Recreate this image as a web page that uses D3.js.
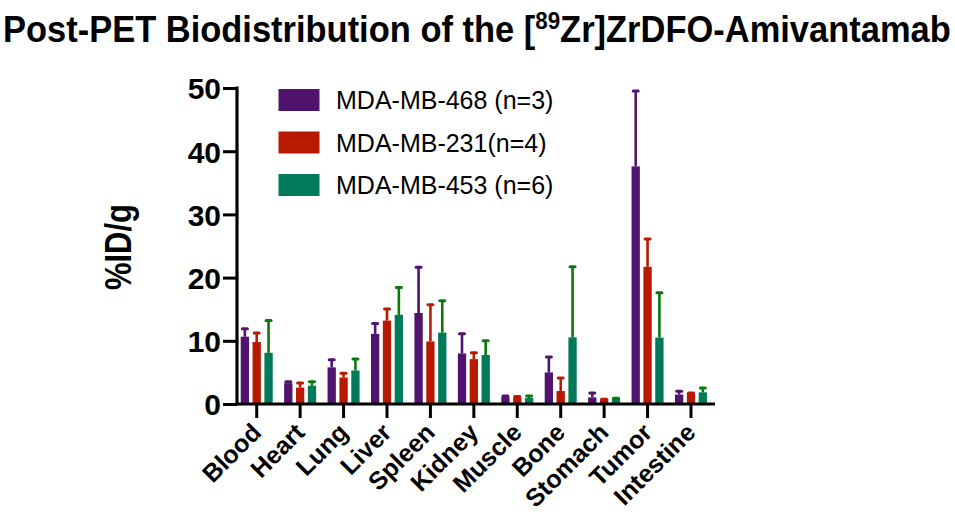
<!DOCTYPE html>
<html>
<head>
<meta charset="utf-8">
<script src="https://cdn.jsdelivr.net/npm/d3@7"></script>
<style>
  html, body { margin: 0; padding: 0; background: #fff; }
  svg { display: block; font-family: "Liberation Sans", Arial, sans-serif; }
</style>
</head>
<body>
<svg id="chart" width="955" height="517"></svg>
<script>
// ---- data ----
const categories = ["Blood", "Heart", "Lung", "Liver", "Spleen", "Kidney", "Muscle", "Bone", "Stomach", "Tumor", "Intestine"];
const seriesNames = ["MDA-MB-468 (n=3)", "MDA-MB-231(n=4)", "MDA-MB-453 (n=6)"];
const mb468Mean = [10.65, 3.3, 5.8, 11.1, 14.4, 8.0, 1.1, 5.0, 1.05, 37.6, 1.5];
const mb468Sd   = [1.35, 0.3, 1.3, 1.7, 7.3, 3.2, 0.25, 2.5, 0.75, 12.0, 0.6];
const mb231Mean = [9.8, 2.6, 4.2, 13.2, 9.9, 7.1, 1.05, 2.05, 0.75, 21.7, 1.7];
const mb231Sd   = [1.5, 0.8, 0.75, 1.9, 5.9, 1.1, 0.2, 2.15, 0.1, 4.5, 0.1];
const mb453Mean = [8.1, 2.9, 5.3, 14.1, 11.3, 7.75, 0.95, 10.55, 0.85, 10.5, 1.85];
const mb453Sd   = [5.2, 0.7, 1.9, 4.4, 5.1, 2.35, 0.4, 11.25, 0.15, 7.2, 0.75];
const yTicks = [0, 10, 20, 30, 40, 50];

const barColors = ["#50146e", "#b81a00", "#007a58"];
const errColors = ["#50146e", "#b81a00", "#0a780a"];

const series = [
  { name: seriesNames[0], mean: mb468Mean, sd: mb468Sd },
  { name: seriesNames[1], mean: mb231Mean, sd: mb231Sd },
  { name: seriesNames[2], mean: mb453Mean, sd: mb453Sd }
];

// ---- layout ----
const svg = d3.select("#chart");
const x0 = 235, x1 = 712.7, yTop = 88, yBot = 404;

const x = d3.scaleBand().domain(categories).range([x0, x1]).padding(0);
const xs = d3.scaleBand().domain([0, 1, 2]).range([-16, 16]).paddingInner(0.3).paddingOuter(0);
const y = d3.scaleLinear().domain([0, 50]).range([yBot, yTop]);
const cx = (c) => x(c) + x.bandwidth() / 2;

// title (condensed to fit the width, like the reference)
const titleG = svg.append("g");
const title = titleG.append("text")
  .attr("x", 0).attr("y", 0)
  .attr("font-size", 37).attr("font-weight", "bold").attr("fill", "#000");
title.append("tspan").text("Post-PET Biodistribution of the [");
title.append("tspan").attr("font-size", 24).attr("dy", -13).text("89");
title.append("tspan").attr("dy", 13).text("Zr]ZrDFO-Amivantamab");
const tw = title.node().getComputedTextLength();
titleG.attr("transform", `translate(3,42) scale(${948 / tw},1)`);

// bars
series.forEach((s, si) => {
  const g = svg.append("g");
  const bx = (c) => cx(c) + xs(si);
  const mx = (c) => bx(c) + xs.bandwidth() / 2;
  g.selectAll("rect").data(categories).join("rect")
    .attr("x", bx)
    .attr("width", xs.bandwidth())
    .attr("y", (c, i) => y(s.mean[i]))
    .attr("height", (c, i) => yBot - y(s.mean[i]))
    .attr("fill", barColors[si]);
  // error bars (upper only)
  g.selectAll("line.err").data(categories).join("line")
    .attr("class", "err")
    .attr("x1", mx).attr("x2", mx)
    .attr("y1", (c, i) => y(s.mean[i]))
    .attr("y2", (c, i) => y(s.mean[i] + s.sd[i]))
    .attr("stroke", errColors[si]).attr("stroke-width", 2.6);
  g.selectAll("line.cap").data(categories).join("line")
    .attr("class", "cap")
    .attr("x1", (c) => mx(c) - 2.5)
    .attr("x2", (c) => mx(c) + 2.5)
    .attr("y1", (c, i) => y(s.mean[i] + s.sd[i]) + 0.5)
    .attr("y2", (c, i) => y(s.mean[i] + s.sd[i]) + 0.5)
    .attr("stroke", errColors[si]).attr("stroke-width", 3).attr("stroke-linecap", "round");
});

// y axis
const yAxis = d3.axisLeft(y).tickValues(yTicks).tickSize(14).tickPadding(2).tickFormat(d3.format("d"));
const gy = svg.append("g").attr("transform", `translate(237,0)`).call(yAxis);
gy.select(".domain").remove();
gy.selectAll(".tick line").attr("stroke", "#000").attr("stroke-width", 3);
gy.selectAll(".tick text").attr("font-size", 30).attr("font-weight", "bold").attr("fill", "#000")
  .attr("font-family", "'Liberation Sans', Arial, sans-serif").attr("dy", "0.36em");
svg.append("line").attr("x1", 237).attr("x2", 237).attr("y1", yTop - 1.5).attr("y2", yBot + 1.5)
  .attr("stroke", "#000").attr("stroke-width", 3.2);

// x axis
const xAxis = d3.axisBottom(x).tickSize(14).tickFormat("");
const gx = svg.append("g").attr("transform", `translate(0,${yBot})`).call(xAxis);
gx.select(".domain").remove();
gx.selectAll(".tick line").attr("stroke", "#000").attr("stroke-width", 3);
svg.append("line").attr("x1", 235.5).attr("x2", 715).attr("y1", yBot).attr("y2", yBot)
  .attr("stroke", "#000").attr("stroke-width", 3.2);

// x labels
svg.append("g").selectAll("text").data(categories).join("text")
  .attr("transform", (c) => `translate(${cx(c) + 6},434) rotate(-45)`)
  .attr("text-anchor", "end")
  .attr("font-size", 25).attr("font-weight", "bold").attr("fill", "#000")
  .text((c) => c);

// y label
svg.append("text")
  .attr("transform", "translate(131,247) rotate(-90)")
  .attr("text-anchor", "middle")
  .attr("font-size", 36).attr("font-weight", "bold").attr("fill", "#000")
  .attr("textLength", 86).attr("lengthAdjust", "spacingAndGlyphs")
  .text("%ID/g");

// legend
const legend = svg.append("g");
series.forEach((s, si) => {
  const ly = 89 + si * 42.5;
  legend.append("rect").attr("x", 278.5).attr("y", ly).attr("width", 41).attr("height", 22)
    .attr("fill", barColors[si]);
  legend.append("text").attr("x", 336).attr("y", ly + 20)
    .attr("font-size", 25).attr("fill", "#000").text(s.name);
});
</script>
</body>
</html>
